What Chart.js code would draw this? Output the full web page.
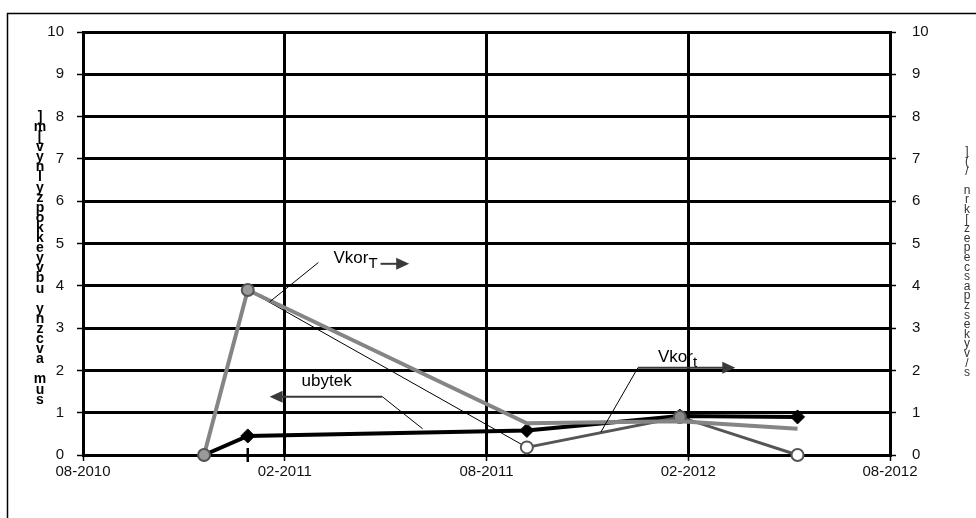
<!DOCTYPE html>
<html>
<head>
<meta charset="utf-8">
<script src="https://cdn.jsdelivr.net/npm/chart.js@4/dist/chart.umd.min.js"></script>
<style>
  html, body { margin: 0; padding: 0; background: #fff; }
  #wrap { position: relative; width: 976px; height: 518px; }
</style>
</head>
<body>
<div id="wrap"><canvas id="c" width="976" height="518"></canvas></div>
<script>
// x values are months counted from 08-2010
const xTickLabels = ['08-2010', '02-2011', '08-2011', '02-2012', '08-2012'];
const yTickValues = [0, 1, 2, 3, 4, 5, 6, 7, 8, 9, 10];
const measureMonths = [3.6, 4.9, 13.2, 17.75, 21.25];
const ubytek = [0, 0.45, 0.58, 0.92, 0.9];
const vkorT = [0, 3.9, 0.75, 0.8, 0.62];
const vkort = [0, 3.9, 0.18, 0.9, 0];

// stacked vertical axis captions (top to bottom)
const leftTitleChars = [']', 'm', '[', 'v', 'y', 'n', 'l', 'y', 'z', 'p', 'o', 'k', 'k', 'e', 'y', 'v', 'b', 'u', ' ', 'y', 'n', 'z', 'c', 'v', 'a', ' ', 'm', 'u', 's'];
const rightTitleChars = [']', '(', '/', ' ', 'n', 'r', 'k', '[', 'z', 'e', 'p', 'e', 'c', 's', 'a', 'p', 'z', 's', 'e', 'k', 'y', 'v', '/', 's'];

const pts = arr => arr.map((v, i) => ({ x: measureMonths[i], y: v }));

// callouts, anchored in data units (month, value)
const callouts = [
  { text: 'Vkor', sub: 'T', at: [7.45, 4.55], leader: [[5.55, 3.62], [7.0, 4.55]], arrow: [[8.85, 4.52], [9.7, 4.52]] },
  { text: 'ubytek', sub: '', at: [6.5, 1.63], leader: [[8.9, 1.38], [10.1, 0.62]], arrow: [[8.9, 1.38], [5.55, 1.38]] },
  { text: 'Vkor', sub: 't', at: [17.1, 2.2], leader: [[15.4, 0.54], [16.5, 2.06]], arrow: [[16.5, 2.06], [19.4, 2.06]] }
];

const decor = {
  id: 'decor',
  beforeDraw(chart) {
    const ctx = chart.ctx;
    ctx.save();
    ctx.fillStyle = '#fff';
    ctx.fillRect(0, 0, chart.width, chart.height);
    ctx.strokeStyle = '#000';
    ctx.lineWidth = 1.5;
    ctx.strokeRect(7.5, 13.5, chart.width + 20, chart.height + 20);
    ctx.restore();
  },
  afterDraw(chart) {
    const ctx = chart.ctx;
    const xs = chart.scales.x, ys = chart.scales.y;
    const P = (p) => [xs.getPixelForValue(p[0]), ys.getPixelForValue(p[1])];
    ctx.save();

    // left caption
    ctx.fillStyle = '#000';
    ctx.font = 'bold 14px "Liberation Sans", Arial, sans-serif';
    ctx.textAlign = 'center';
    ctx.textBaseline = 'middle';
    leftTitleChars.forEach((ch, i) => ctx.fillText(ch, 40, 117 + i * 10.1));

    // right caption
    ctx.fillStyle = '#333';
    ctx.font = '12px "Liberation Sans", Arial, sans-serif';
    rightTitleChars.forEach((ch, i) => ctx.fillText(ch, 967, 152 + i * 9.6));

    // callouts
    callouts.forEach(c => {
      const [a0, a1] = [P(c.leader[0]), P(c.leader[1])];
      ctx.strokeStyle = '#000';
      ctx.lineWidth = 1;
      ctx.beginPath(); ctx.moveTo(a0[0], a0[1]); ctx.lineTo(a1[0], a1[1]); ctx.stroke();

      const [b0, b1] = [P(c.arrow[0]), P(c.arrow[1])];
      const dir = Math.sign(b1[0] - b0[0]);
      ctx.strokeStyle = '#3a3a3a';
      ctx.fillStyle = '#3a3a3a';
      ctx.lineWidth = 2;
      ctx.beginPath(); ctx.moveTo(b0[0], b0[1]); ctx.lineTo(b1[0] - dir * 8, b1[1]); ctx.stroke();
      ctx.beginPath();
      ctx.moveTo(b1[0], b1[1]);
      ctx.lineTo(b1[0] - dir * 13, b1[1] - 6);
      ctx.lineTo(b1[0] - dir * 13, b1[1] + 6);
      ctx.closePath(); ctx.fill();

      const t = P(c.at);
      ctx.fillStyle = '#000';
      ctx.textAlign = 'left';
      ctx.textBaseline = 'alphabetic';
      ctx.font = '17px "Liberation Sans", Arial, sans-serif';
      ctx.fillText(c.text, t[0], t[1]);
      if (c.sub) {
        const w = ctx.measureText(c.text).width;
        ctx.font = '15px "Liberation Sans", Arial, sans-serif';
        ctx.fillText(c.sub, t[0] + w, t[1] + 5);
      }
    });
    ctx.restore();
  }
};

const tickFont = { family: '"Liberation Sans", Arial, sans-serif', size: 15 };

new Chart(document.getElementById('c'), {
  type: 'line',
  data: {
    datasets: [
      {
        label: 'ubytek',
        data: pts(ubytek),
        borderColor: '#000',
        backgroundColor: '#000',
        borderWidth: 4,
        pointStyle: 'rectRot',
        pointRadius: 7,
        pointBorderWidth: 1,
        order: 3,
        clip: false
      },
      {
        label: 'Vkort',
        data: pts(vkort),
        borderColor: '#555',
        borderWidth: 3,
        segment: {
          borderWidth: ctx => (ctx.p0DataIndex === 0 ? 0 : ctx.p0DataIndex === 1 ? 1 : 3),
          borderColor: ctx => (ctx.p0DataIndex === 0 ? 'rgba(0,0,0,0)' : ctx.p0DataIndex === 1 ? '#000' : '#555')
        },
        pointStyle: 'circle',
        pointRadius: [0, 0, 6, 6, 6],
        pointBackgroundColor: ['#fff', '#fff', '#fff', '#8a8a8a', '#fff'],
        pointBorderColor: '#555',
        pointBorderWidth: 2,
        order: 2,
        clip: false
      },
      {
        label: 'VkorT',
        data: pts(vkorT),
        borderColor: '#858585',
        borderWidth: 4,
        pointStyle: 'circle',
        pointRadius: [6, 6, 0, 0, 0],
        pointBackgroundColor: '#9a9a9a',
        pointBorderColor: '#555',
        pointBorderWidth: 2,
        order: 1,
        clip: false
      },
      {
        label: 'marker',
        data: [{ x: measureMonths[1], y: 0 }],
        showLine: false,
        pointStyle: 'line',
        rotation: 90,
        pointRadius: 7,
        borderColor: '#000',
        pointBorderWidth: 2.5,
        order: 4,
        clip: false
      }
    ]
  },
  options: {
    responsive: false,
    animation: false,
    devicePixelRatio: 1,
    layout: { padding: { left: 0, right: 0, top: 32, bottom: 0 } },
    plugins: { legend: { display: false }, tooltip: { enabled: false } },
    scales: {
      x: {
        type: 'linear',
        min: 0, max: 24,
        afterFit: s => { s.height = 63; },
        afterBuildTicks: s => { s.ticks = xTickLabels.map((_, i) => ({ value: i * 6 })); },
        ticks: {
          callback: v => xTickLabels[Math.round(v / 6)],
          color: '#111',
          font: tickFont,
          padding: 2,
          maxRotation: 0
        },
        grid: { color: '#000', lineWidth: 3, tickLength: 6, tickColor: '#000', tickWidth: 1.5 },
        border: { color: '#000', width: 3 }
      },
      y: {
        position: 'left',
        min: 0, max: 10,
        afterFit: s => { s.width = 83; },
        afterBuildTicks: s => { s.ticks = yTickValues.map(v => ({ value: v })); },
        ticks: { color: '#111', font: tickFont, padding: 13 },
        grid: { color: '#000', lineWidth: 3, tickLength: 6, tickColor: '#000', tickWidth: 1.5 },
        border: { color: '#000', width: 3 }
      },
      y2: {
        position: 'right',
        min: 0, max: 10,
        afterFit: s => { s.width = 86; },
        afterBuildTicks: s => { s.ticks = yTickValues.map(v => ({ value: v })); },
        ticks: { color: '#111', font: tickFont, padding: 16 },
        grid: { drawOnChartArea: false, color: '#000', tickLength: 6, tickColor: '#000', tickWidth: 1.5 },
        border: { color: '#000', width: 3 }
      }
    }
  },
  plugins: [decor]
});
</script>
</body>
</html>
